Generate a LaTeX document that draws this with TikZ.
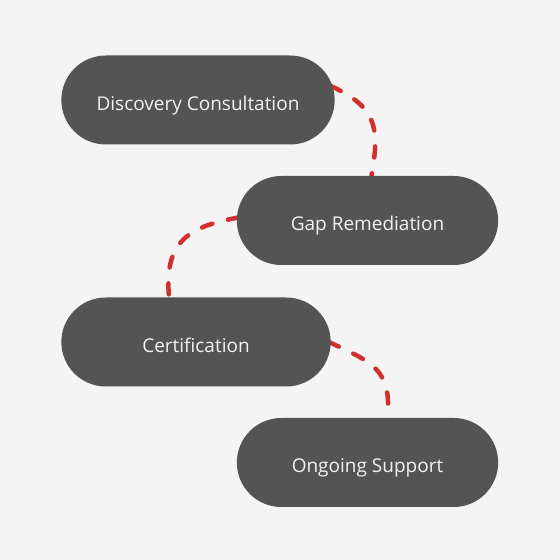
\documentclass[tikz,border=0pt]{standalone}
\usepackage{fontspec}
\setmainfont{Open Sans}
\usetikzlibrary{shapes.misc,calc}
\definecolor{pagebg}{HTML}{F4F4F4}
\definecolor{pillgray}{HTML}{545454}
\definecolor{linkred}{HTML}{D0312F}
\pgfdeclarelayer{back}
\pgfdeclarelayer{links}
\pgfsetlayers{back,links,main}
\tikzset{
    stage/.style={rounded rectangle,fill=pillgray,text=white!95!black,
        minimum height=89pt,text height=2.3em,text depth=0.25em,
        font=\fontsize{19}{23}\selectfont},
    link/.style={draw=linkred,line width=4.5pt,line cap=round,
        dash pattern=on 11pt off 16pt,looseness=1.3}
}
\begin{document}
\begin{tikzpicture}[x=1pt,y=1pt]
    \begin{pgfonlayer}{back}
        \fill[pagebg] (0,0) rectangle (560,560);
    \end{pgfonlayer}
    \useasboundingbox (0,0) rectangle (560,560);
    \node[stage,minimum width=280pt](disc) at (198,460){Discovery Consultation};
    \node[stage,minimum width=268pt](gap) at (367.5,339.5){Gap Remediation};
    \node[stage,minimum width=276pt](cert) at (196,218){Certification};
    \node[stage,minimum width=268pt](ongo) at (367.5,97.5){Ongoing Support};
    \begin{pgfonlayer}{links}
        \draw[link] ($(disc.east)+(-4,14)$) to[out=-25,in=80] ($(gap.north)+(4,0)$);
        \draw[link] ($(gap.west)+(2,3)$) to[out=190,in=95] ($(cert.north)+(-27,0)$);
        \draw[link] ($(cert.east)+(-2,0)$) to[out=-25,in=85] ($(ongo.north)+(20,0)$);
    \end{pgfonlayer}
\end{tikzpicture}
\end{document}
